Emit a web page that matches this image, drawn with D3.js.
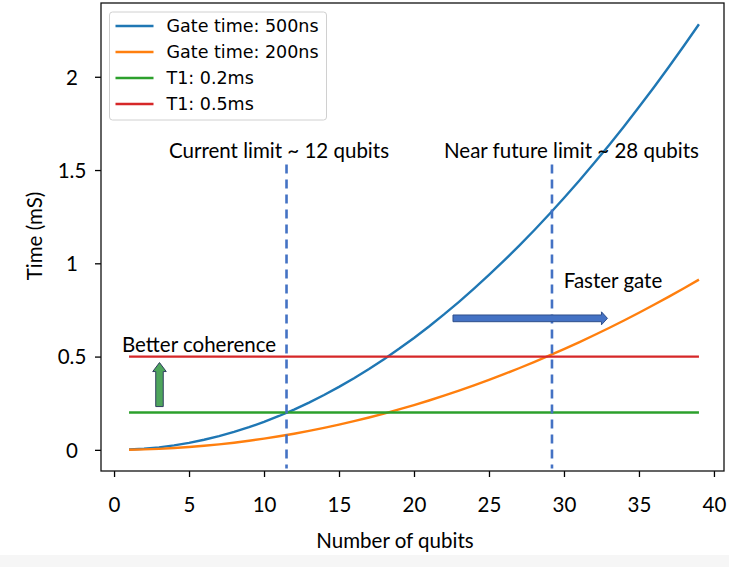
<!DOCTYPE html>
<html>
<head>
<meta charset="utf-8">
<script src="https://cdn.jsdelivr.net/npm/d3@7"></script>
<style>
  body { margin: 0; background: #fff; }
  svg { display: block; }
</style>
</head>
<body>
<div id="chart"></div>
<script>
// qubit counts and run times (ms)
var qubits = [1, 2, 3, 4, 5, 6, 7, 8, 9, 10, 11, 12, 13, 14, 15, 16, 17, 18, 19, 20,
    21, 22, 23, 24, 25, 26, 27, 28, 29, 30, 31, 32, 33, 34, 35, 36, 37, 38, 39];
var gate500 = [0.0015, 0.006, 0.0135, 0.024, 0.0375, 0.054, 0.0735, 0.096, 0.1215, 0.15,
    0.1815, 0.216, 0.2535, 0.294, 0.3375, 0.384, 0.4335, 0.486, 0.5415, 0.6,
    0.6615, 0.726, 0.7935, 0.864, 0.9375, 1.014, 1.0935, 1.176, 1.2615, 1.35,
    1.4415, 1.536, 1.6335, 1.734, 1.8375, 1.944, 2.0535, 2.166, 2.2815];
var gate200 = [0.0006, 0.0024, 0.0054, 0.0096, 0.015, 0.0216, 0.0294, 0.0384, 0.0486, 0.06,
    0.0726, 0.0864, 0.1014, 0.1176, 0.135, 0.1536, 0.1734, 0.1944, 0.2166, 0.24,
    0.2646, 0.2904, 0.3174, 0.3456, 0.375, 0.4056, 0.4374, 0.4704, 0.5046, 0.54,
    0.5766, 0.6144, 0.6534, 0.6936, 0.735, 0.7776, 0.8214, 0.8664, 0.9126];
var t1Values = [0.2, 0.5];
var t1Range = [1, 39];

var seriesNames = ["Gate time: 500ns", "Gate time: 200ns", "T1: 0.2ms", "T1: 0.5ms"];
var seriesColors = ["#1f77b4", "#ff7f0e", "#2ca02c", "#d62728"];

var xTicks = [0, 5, 10, 15, 20, 25, 30, 35, 40];
var yTicks = [0, 0.5, 1, 1.5, 2];

// annotations
var limitQubits = [11.5, 29.2];
var limitLabels = ["Current limit ~ 12 qubits", "Near future limit ~ 28 qubits"];
var limitLabelX = [11.0, 30.5];

var svg = d3.select("#chart").append("svg")
    .attr("width", 729)
    .attr("height", 567);

// the light strip at the very bottom of the screenshot
svg.append("rect")
    .attr("x", 0).attr("y", 555)
    .attr("width", 729).attr("height", 12)
    .attr("fill", "#f6f6f6");

var box = { left: 101, top: 3, right: 724, bottom: 471 };

var x = d3.scaleLinear().domain([-0.87, 40.67]).range([box.left, box.right]);
var y = d3.scaleLinear().domain([-0.1134, 2.3955]).range([box.bottom, box.top]);

var overlayFont = "Lato, 'Open Sans', sans-serif";
var overlaySize = 20.5;

// axes
var xAxis = svg.append("g")
    .attr("transform", "translate(0," + box.bottom + ")")
    .call(d3.axisBottom(x).tickValues(xTicks).tickSize(6).tickFormat(d3.format("d")));
xAxis.select(".domain").remove();
xAxis.selectAll("line").attr("stroke", "#000").attr("stroke-width", 1.3);
xAxis.selectAll("text")
    .attr("y", 41).attr("dy", 0)
    .attr("font-family", overlayFont)
    .attr("font-size", overlaySize)
    .attr("fill", "#000");

var yAxis = svg.append("g")
    .attr("transform", "translate(" + box.left + ",0)")
    .call(d3.axisLeft(y).tickValues(yTicks).tickSize(6).tickFormat(d3.format("")));
yAxis.select(".domain").remove();
yAxis.selectAll("line").attr("stroke", "#000").attr("stroke-width", 1.3);
yAxis.selectAll("text")
    .attr("x", -29).attr("dy", "0.36em")
    .attr("text-anchor", "middle")
    .attr("font-family", overlayFont)
    .attr("font-size", overlaySize)
    .attr("fill", "#000");

// frame
svg.append("rect")
    .attr("x", box.left).attr("y", box.top)
    .attr("width", box.right - box.left)
    .attr("height", box.bottom - box.top)
    .attr("fill", "none")
    .attr("stroke", "#111")
    .attr("stroke-width", 1.3);

// axis titles
svg.append("text")
    .attr("x", 395).attr("y", 548)
    .attr("text-anchor", "middle")
    .attr("font-family", overlayFont)
    .attr("font-size", overlaySize)
    .text("Number of qubits");

svg.append("text")
    .attr("transform", "translate(42,236) rotate(-90)")
    .attr("text-anchor", "middle")
    .attr("font-family", overlayFont)
    .attr("font-size", overlaySize)
    .text("Time (mS)");

// series
var line = d3.line()
    .x(function (d) { return x(d[0]); })
    .y(function (d) { return y(d[1]); });

var curves = [gate500, gate200].map(function (vals) {
    return qubits.map(function (q, i) { return [q, vals[i]]; });
});
t1Values.forEach(function (v) {
    curves.push(t1Range.map(function (q) { return [q, v]; }));
});

svg.append("g").selectAll("path")
    .data(curves)
    .enter()
    .append("path")
    .attr("d", line)
    .attr("fill", "none")
    .attr("stroke", function (d, i) { return seriesColors[i]; })
    .attr("stroke-width", 2.4);

// vertical dashed limits
svg.append("g").selectAll("line")
    .data(limitQubits)
    .enter()
    .append("line")
    .attr("x1", function (d) { return x(d); })
    .attr("x2", function (d) { return x(d); })
    .attr("y1", y(1.53))
    .attr("y2", y(-0.1))
    .attr("stroke", "#4472c4")
    .attr("stroke-width", 2.6)
    .attr("stroke-dasharray", "9,6");

svg.append("g").selectAll("text")
    .data(limitLabels)
    .enter()
    .append("text")
    .attr("x", function (d, i) { return x(limitLabelX[i]); })
    .attr("y", y(1.565))
    .attr("text-anchor", "middle")
    .attr("font-family", overlayFont)
    .attr("font-size", overlaySize)
    .text(function (d) { return d; });

svg.append("text")
    .attr("x", x(33.27)).attr("y", y(0.868))
    .attr("text-anchor", "middle")
    .attr("font-family", overlayFont)
    .attr("font-size", overlaySize)
    .text("Faster gate");

svg.append("text")
    .attr("x", x(5.67)).attr("y", y(0.525))
    .attr("text-anchor", "middle")
    .attr("font-family", overlayFont)
    .attr("font-size", overlaySize)
    .text("Better coherence");

// block arrows
function upArrow(cx, yBottom, yTop, shaft, head, headLen) {
    var pts = [
        [cx - shaft / 2, yBottom], [cx - shaft / 2, yTop + headLen], [cx - head / 2, yTop + headLen],
        [cx, yTop], [cx + head / 2, yTop + headLen], [cx + shaft / 2, yTop + headLen],
        [cx + shaft / 2, yBottom]
    ];
    return "M" + pts.join("L") + "Z";
}
function rightArrow(cy, xLeft, xRight, shaft, head, headLen) {
    var pts = [
        [xLeft, cy - shaft / 2], [xRight - headLen, cy - shaft / 2], [xRight - headLen, cy - head / 2],
        [xRight, cy], [xRight - headLen, cy + head / 2], [xRight - headLen, cy + shaft / 2],
        [xLeft, cy + shaft / 2]
    ];
    return "M" + pts.join("L") + "Z";
}

svg.append("path")
    .attr("d", upArrow(x(3.03), y(0.232), y(0.468), 7.5, 13.5, 9))
    .attr("fill", "#4ea55c")
    .attr("stroke", "#2f3f5f")
    .attr("stroke-width", 1);

svg.append("path")
    .attr("d", rightArrow(y(0.705), x(22.6), x(32.9), 6.7, 13, 6))
    .attr("fill", "#4472c4")
    .attr("stroke", "#2f4f8a")
    .attr("stroke-width", 1);

// legend
var legend = svg.append("g").attr("transform", "translate(109.5,12)");
legend.append("rect")
    .attr("width", 217).attr("height", 108)
    .attr("rx", 3)
    .attr("fill", "#fff")
    .attr("fill-opacity", 0.8)
    .attr("stroke", "#d0d0d0")
    .attr("stroke-width", 1);

var items = legend.selectAll("g.item")
    .data(seriesNames)
    .enter()
    .append("g")
    .attr("class", "item")
    .attr("transform", function (d, i) { return "translate(0," + (14 + i * 26) + ")"; });
items.append("line")
    .attr("x1", 6).attr("x2", 44)
    .attr("stroke", function (d, i) { return seriesColors[i]; })
    .attr("stroke-width", 2.4);
items.append("text")
    .attr("x", 57).attr("dy", "0.36em")
    .attr("font-family", "'DejaVu Sans', sans-serif")
    .attr("font-size", 17.5)
    .attr("fill", "#000")
    .text(function (d) { return d; });
</script>
</body>
</html>
